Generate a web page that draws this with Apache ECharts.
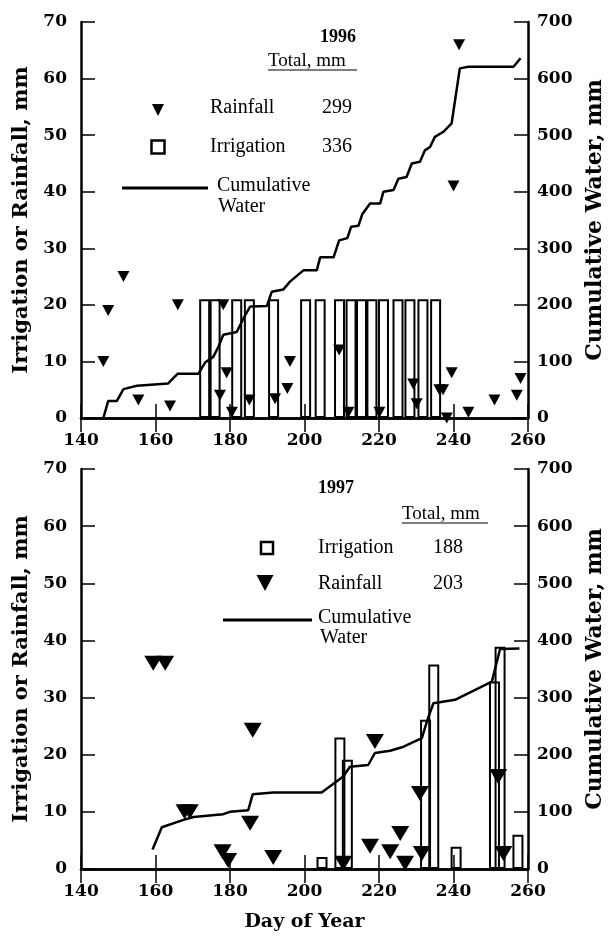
<!DOCTYPE html>
<html>
<head>
<meta charset="utf-8">
<script src="https://cdn.jsdelivr.net/npm/echarts@6/dist/echarts.min.js"></script>
<style>
  html, body { margin: 0; padding: 0; background: #fff; }
  #chart { width: 615px; height: 940px; }
</style>
</head>
<body>
<div id="chart"></div>
<script>
// day of year ticks
const dayTicks = [140, 160, 180, 200, 220, 240, 260]

// 1996 season
const rain96 = [
  [146, 10], [147.3, 19], [151.4, 25], [155.4, 3.2], [163.9, 2.1], [166, 20],
  [177.3, 4], [178.2, 20], [179.1, 8], [180.5, 1], [185.2, 3.2], [192.1, 3.4],
  [195.4, 5.2], [196.1, 10], [209.3, 12], [211.8, 1], [220.1, 1], [229.2, 6],
  [230.1, 2.5], [236.2, 5], [237.2, 5], [238.2, 0], [239.5, 8], [240, 41],
  [241.5, 66], [244, 1], [251, 3.2], [257, 4], [258, 7]
]
const irr96 = [
  [173.2, 21], [176, 21], [181.8, 21], [185.2, 21], [191.7, 21], [200.3, 21],
  [204.2, 21], [209.4, 21], [212.5, 21], [215.3, 21], [218.1, 21], [221.2, 21],
  [225.1, 21], [228.3, 21], [231.8, 21], [235.2, 21]
]
const cum96 = [
  [146, 0], [147.3, 30], [149.6, 30], [151.4, 51], [155, 57], [163.4, 61],
  [165.9, 78], [171.5, 78], [173.3, 98], [175.5, 108], [176.9, 126], [178.2, 147],
  [181.8, 152], [183.6, 176], [185.4, 197], [189.9, 198], [191.2, 223], [194.3, 227],
  [196.1, 241], [199.7, 261], [203.3, 261], [204.2, 284], [207.8, 284], [209.3, 314],
  [211.5, 318], [212.5, 338], [214.5, 340], [215.5, 360], [217.6, 379], [220.3, 379],
  [221.2, 400], [223.9, 403], [225.2, 423], [227.4, 426], [228.8, 450], [231, 453],
  [232.3, 473], [233.7, 479], [235, 497], [237.3, 506], [239.5, 521], [241.7, 618],
  [244, 621], [256.1, 621], [258, 636]
]

// 1997 season
const rain97 = [
  [159.4, 36], [162.6, 36], [167.8, 10], [169.2, 10], [178, 3], [179.5, 1.5],
  [185.4, 8], [186.1, 24.3], [191.6, 2], [210.4, 1], [217.6, 4], [218.9, 22.3],
  [223, 3], [225.7, 6.2], [227, 1], [231, 13.2], [231.5, 2.7], [252, 16.2],
  [253.4, 2.7]
]
const irr97 = [
  [204.7, 2.1], [209.5, 23], [211.5, 19.1], [232.5, 26.1], [234.7, 35.8],
  [240.7, 3.9], [251, 32.8], [252.5, 38.9], [257.3, 6]
]
const cum97 = [
  [159.2, 34], [161.7, 73], [167.5, 86], [170.2, 91], [178.2, 96], [180, 100],
  [184.9, 103], [186.1, 131], [191.6, 134], [204.6, 134], [210.4, 162], [212.2, 179],
  [217.1, 182], [218.9, 203], [223, 207], [226.6, 214], [231.5, 229], [233, 261],
  [234.6, 290], [240.4, 296], [250.3, 328], [252.5, 385], [257.7, 386]
]

// totals shown in the legends
const totals96 = { rain: '299', irr: '336' }
const totals97 = { irr: '188', rain: '203' }

const tickFont = 'DejaVu Serif'
const textFont = 'Liberation Serif'

function xAxes(gridIndex, withName) {
  const line = { lineStyle: { color: '#000', width: 2.5 } }
  return [
    {
      type: 'value', gridIndex, position: 'bottom',
      min: dayTicks[0], max: dayTicks[dayTicks.length - 1], interval: 20,
      axisLine: line,
      axisTick: { inside: true, length: 14, lineStyle: { color: '#000', width: 1.5 } },
      axisLabel: { color: '#000', fontFamily: tickFont, fontWeight: 'bold', fontSize: 17, margin: 14 },
      splitLine: { show: false },
      name: withName ? 'Day of Year' : '',
      nameLocation: 'middle', nameGap: 44,
      nameTextStyle: { color: '#000', fontFamily: tickFont, fontWeight: 'bold', fontSize: 19 }
    },
    {
      type: 'value', gridIndex, position: 'top',
      min: dayTicks[0], max: dayTicks[dayTicks.length - 1], interval: 20,
      axisLine: line,
      axisTick: { inside: true, length: 14, lineStyle: { color: '#000', width: 1.5 } },
      axisLabel: { show: false },
      splitLine: { show: false }
    }
  ]
}

function yAxes(gridIndex) {
  const line = { show: true, lineStyle: { color: '#000', width: 2.5 } }
  const tick = { inside: true, length: 14, lineStyle: { color: '#000', width: 1.5 } }
  return [
    {
      type: 'value', gridIndex, position: 'left',
      min: 0, max: 70, interval: 10,
      axisLine: line, axisTick: tick,
      axisLabel: { color: '#000', fontFamily: tickFont, fontWeight: 'bold', fontSize: 17, margin: 14 },
      splitLine: { show: false },
      name: 'Irrigation or Rainfall, mm',
      nameLocation: 'middle', nameRotate: 90, nameGap: 45,
      nameTextStyle: { color: '#000', fontFamily: tickFont, fontWeight: 'bold', fontSize: 21 }
    },
    {
      type: 'value', gridIndex, position: 'right',
      min: 0, max: 700, interval: 100,
      axisLine: line, axisTick: tick,
      axisLabel: { color: '#000', fontFamily: tickFont, fontWeight: 'bold', fontSize: 17, margin: 9 },
      splitLine: { show: false },
      name: 'Cumulative Water, mm',
      nameLocation: 'middle', nameRotate: 90, nameGap: 56,
      nameTextStyle: { color: '#000', fontFamily: tickFont, fontWeight: 'bold', fontSize: 22 }
    }
  ]
}

function seriesFor(xi, yi, rain, irr, cum, triSize) {
  return [
    {
      name: 'Irrigation', type: 'bar', xAxisIndex: xi, yAxisIndex: yi,
      data: irr, barWidth: 11, z: 2,
      itemStyle: { color: 'rgba(0,0,0,0)', borderColor: '#000', borderWidth: 2 }
    },
    {
      name: 'Cumulative Water', type: 'line', xAxisIndex: xi, yAxisIndex: yi + 1,
      data: cum, symbol: 'none', z: 3,
      lineStyle: { color: '#000', width: 2.5 }
    },
    {
      name: 'Rainfall', type: 'scatter', xAxisIndex: xi, yAxisIndex: yi,
      data: rain, symbol: 'triangle', symbolRotate: 180, symbolSize: triSize, z: 4,
      itemStyle: { color: '#000', opacity: 1 }
    }
  ]
}

function txt(text, x, y, size, bold) {
  return {
    type: 'text', z: 10,
    style: {
      text, x, y,
      font: (bold ? 'bold ' : '') + size + 'px "' + textFont + '"',
      fill: '#000', align: 'left', verticalAlign: 'middle',
      textAlign: 'left', textVerticalAlign: 'middle'
    }
  }
}
function hline(x1, x2, y, w) {
  return { type: 'line', z: 10, shape: { x1, y1: y, x2, y2: y }, style: { stroke: '#000', lineWidth: w } }
}
function square(cx, cy, s) {
  return {
    type: 'rect', z: 10,
    shape: { x: cx - s / 2, y: cy - s / 2, width: s, height: s },
    style: { fill: '#fff', stroke: '#000', lineWidth: 2.5 }
  }
}
function tri(cx, cy, w, h) {
  return {
    type: 'polygon', z: 10,
    shape: { points: [[cx - w / 2, cy - h / 2], [cx + w / 2, cy - h / 2], [cx, cy + h / 2]] },
    style: { fill: '#000' }
  }
}

const graphics = [
  // 1996 legend
  txt('1996', 320, 37, 18, true),
  txt('Total, mm', 268, 61, 19, false),
  hline(268, 357, 70, 1.2),
  tri(158, 110, 12, 12),
  txt('Rainfall', 210, 108, 20, false),
  txt(totals96.rain, 322, 108, 20, false),
  square(158, 147, 13),
  txt('Irrigation', 210, 147, 20, false),
  txt(totals96.irr, 322, 147, 20, false),
  hline(122, 208, 188, 3),
  txt('Cumulative', 217, 186, 20, false),
  txt('Water', 218, 207, 20, false),

  // 1997 legend
  txt('1997', 318, 488, 18, true),
  txt('Total, mm', 402, 514, 19, false),
  hline(402, 488, 523, 1.2),
  square(267, 548, 12),
  txt('Irrigation', 318, 548, 20, false),
  txt(totals97.irr, 433, 548, 20, false),
  tri(265, 583, 17, 16),
  txt('Rainfall', 318, 584, 20, false),
  txt(totals97.rain, 433, 584, 20, false),
  hline(223, 312, 620, 3),
  txt('Cumulative', 318, 618, 20, false),
  txt('Water', 320, 638, 20, false)
]

const chart = echarts.init(document.getElementById('chart'))
chart.setOption({
  animation: false,
  backgroundColor: '#fff',
  grid: [
    { left: 81, right: 87, top: 22, height: 396 },
    { left: 81, right: 87, top: 469, height: 400 }
  ],
  xAxis: [...xAxes(0, false), ...xAxes(1, true)],
  yAxis: [...yAxes(0), ...yAxes(1)],
  series: [
    ...seriesFor(0, 0, rain96, irr96, cum96, [12, 11]),
    ...seriesFor(2, 2, rain97, irr97, cum97, [18, 15])
  ],
  graphic: graphics
})
</script>
</body>
</html>
